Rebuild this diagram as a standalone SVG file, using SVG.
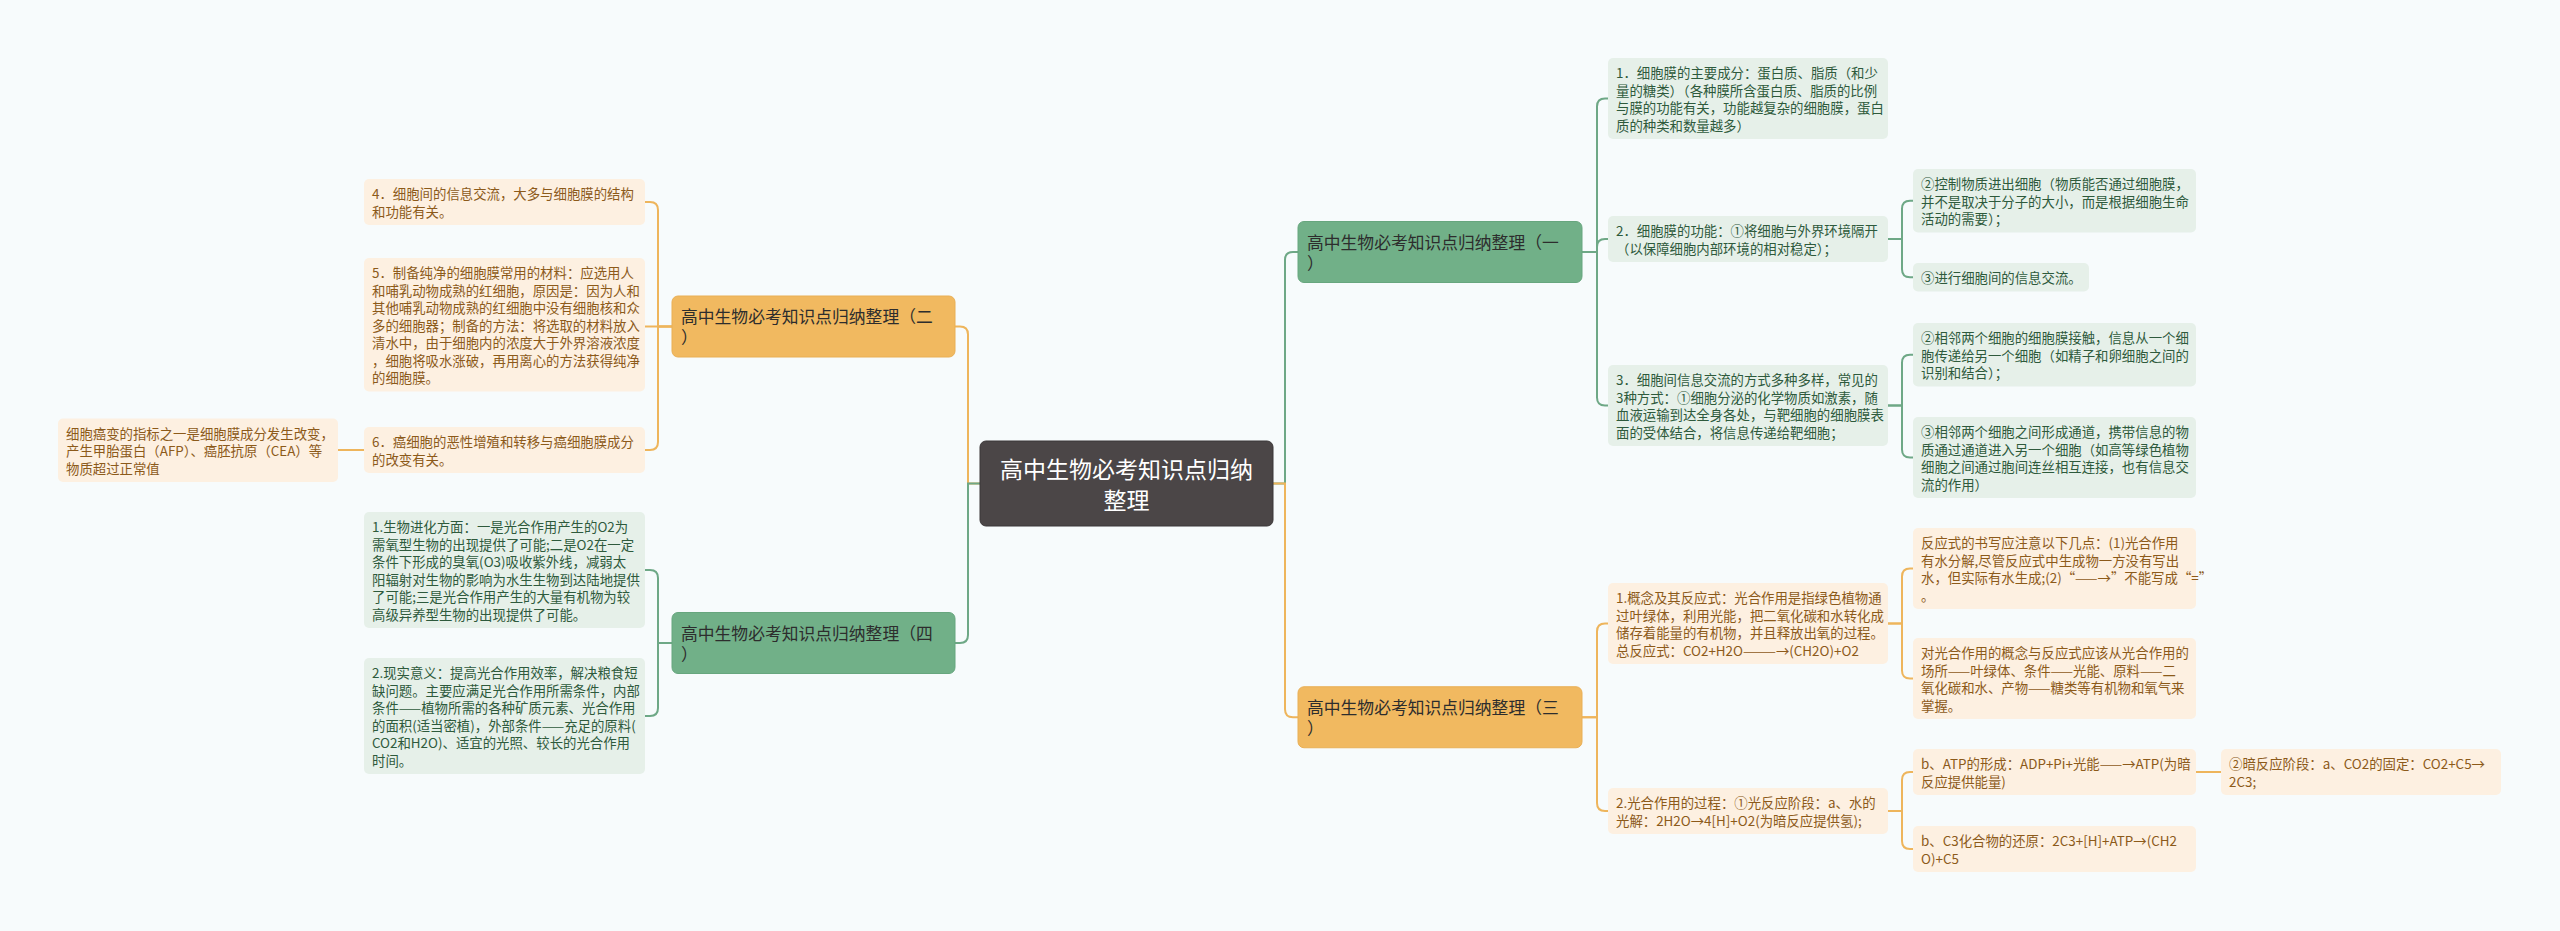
<svg xmlns="http://www.w3.org/2000/svg" width="2560" height="931" viewBox="0 0 2560 931">
<style>
text{font-family:"Noto Sans CJK SC","Noto Sans",sans-serif;dominant-baseline:central}
.bgc{fill:#f7fbfc}
.lo{fill:#fdf0e1}
.lg{fill:#e6f0e9}
.bo{fill:#f1b960;stroke:#e9af55;stroke-width:1}
.bgr{fill:#71b088;stroke:#67a67e;stroke-width:1}
.cen{fill:#4b4647;stroke:#3b3738;stroke-width:1}
.to{font-size:13.4px;fill:#8c5a1a}
.tg{font-size:13.4px;fill:#2e5a3c}
.tb{font-size:16.8px;fill:#2d2d2d}
.tc{font-size:23px;fill:#ffffff;text-anchor:middle}
.co{fill:none;stroke:#eeb55c;stroke-width:2}
.cg{fill:none;stroke:#6ea886;stroke-width:2}
</style>
<rect class="bgc" x="0" y="0" width="2560" height="931"/>
<g id="connectors">
<path class="co" d="M980,483.5 H968 V334.5 Q968,326.5 960,326.5 H955"/>
<path class="cg" d="M980,483.5 H968 V635 Q968,643 960,643 H955"/>
<path class="cg" d="M1273,483.5 H1285 V260 Q1285,252 1293,252 H1298"/>
<path class="co" d="M1273,483.5 H1285 V709.25 Q1285,717.25 1293,717.25 H1298"/>
<path class="co" d="M672,326.5 H658 V210 Q658,202 650,202 H645"/>
<path class="co" d="M672,326.5 H645"/>
<path class="co" d="M672,326.5 H658 V442 Q658,450 650,450 H645"/>
<path class="co" d="M364,450 H338"/>
<path class="cg" d="M672,643 H658 V578 Q658,570 650,570 H645"/>
<path class="cg" d="M672,643 H658 V708 Q658,716 650,716 H645"/>
<path class="cg" d="M1582,252 H1597 V106.5 Q1597,98.5 1605,98.5 H1608"/>
<path class="cg" d="M1582,252 H1597 V247 Q1597,239 1605,239 H1608"/>
<path class="cg" d="M1582,252 H1597 V397.5 Q1597,405.5 1605,405.5 H1608"/>
<path class="cg" d="M1888,239 H1902 V208.75 Q1902,200.75 1910,200.75 H1913"/>
<path class="cg" d="M1888,239 H1902 V269.25 Q1902,277.25 1910,277.25 H1913"/>
<path class="cg" d="M1888,405.5 H1902 V362.75 Q1902,354.75 1910,354.75 H1913"/>
<path class="cg" d="M1888,405.5 H1902 V449.5 Q1902,457.5 1910,457.5 H1913"/>
<path class="co" d="M1582,717.25 H1597 V631.5 Q1597,623.5 1605,623.5 H1608"/>
<path class="co" d="M1582,717.25 H1597 V803 Q1597,811 1605,811 H1608"/>
<path class="co" d="M1888,623.5 H1902 V576.5 Q1902,568.5 1910,568.5 H1913"/>
<path class="co" d="M1888,623.5 H1902 V670.5 Q1902,678.5 1910,678.5 H1913"/>
<path class="co" d="M1888,811 H1902 V780 Q1902,772 1910,772 H1913"/>
<path class="co" d="M1888,811 H1902 V841 Q1902,849 1910,849 H1913"/>
<path class="co" d="M2196,772 H2221"/>
</g>
<g id="center">
<rect class="cen" x="980" y="441" width="293" height="85" rx="6"/>
<text class="tc"><tspan x="1126.5" y="468">高中生物必考知识点归纳</tspan><tspan x="1126.5" y="499">整理</tspan></text>
</g>
<g id="b2">
<rect class="bo" x="672" y="296" width="283" height="61" rx="6"/>
<text class="tb"><tspan x="681" y="316">高中生物必考知识点归纳整理（二</tspan><tspan x="681" y="337">）</tspan></text>
</g>
<g id="b4">
<rect class="bgr" x="672" y="612.5" width="283" height="61" rx="6"/>
<text class="tb"><tspan x="681" y="632.5">高中生物必考知识点归纳整理（四</tspan><tspan x="681" y="653.5">）</tspan></text>
</g>
<g id="b1">
<rect class="bgr" x="1298" y="221.5" width="284" height="61" rx="6"/>
<text class="tb"><tspan x="1307" y="241.5">高中生物必考知识点归纳整理（一</tspan><tspan x="1307" y="262.5">）</tspan></text>
</g>
<g id="b3">
<rect class="bo" x="1298" y="686.75" width="284" height="61" rx="6"/>
<text class="tb"><tspan x="1307" y="706.75">高中生物必考知识点归纳整理（三</tspan><tspan x="1307" y="727.75">）</tspan></text>
</g>
<g id="l4">
<rect class="lo" x="364" y="179" width="281" height="46" rx="5"/>
<text class="to"><tspan x="372" y="193.25">4．细胞间的信息交流，大多与细胞膜的结构</tspan><tspan x="372" y="210.75">和功能有关。</tspan></text>
</g>
<g id="l5">
<rect class="lo" x="364" y="258" width="281" height="133.5" rx="5"/>
<text class="to"><tspan x="372" y="272.25">5．制备纯净的细胞膜常用的材料：应选用人</tspan><tspan x="372" y="289.75">和哺乳动物成熟的红细胞，原因是：因为人和</tspan><tspan x="372" y="307.25">其他哺乳动物成熟的红细胞中没有细胞核和众</tspan><tspan x="372" y="324.75">多的细胞器；制备的方法：将选取的材料放入</tspan><tspan x="372" y="342.25">清水中，由于细胞内的浓度大于外界溶液浓度</tspan><tspan x="372" y="359.75">，细胞将吸水涨破，再用离心的方法获得纯净</tspan><tspan x="372" y="377.25">的细胞膜。</tspan></text>
</g>
<g id="l6">
<rect class="lo" x="364" y="427" width="281" height="46" rx="5"/>
<text class="to"><tspan x="372" y="441.25">6．癌细胞的恶性增殖和转移与癌细胞膜成分</tspan><tspan x="372" y="458.75">的改变有关。</tspan></text>
</g>
<g id="l6a">
<rect class="lo" x="58" y="418.5" width="280" height="63.5" rx="5"/>
<text class="to"><tspan x="66" y="432.75">细胞癌变的指标之一是细胞膜成分发生改变，</tspan><tspan x="66" y="450.25">产生甲胎蛋白（AFP）、癌胚抗原（CEA）等</tspan><tspan x="66" y="467.75">物质超过正常值</tspan></text>
</g>
<g id="g1">
<rect class="lg" x="364" y="512" width="281" height="116" rx="5"/>
<text class="tg"><tspan x="372" y="526.25">1.生物进化方面：一是光合作用产生的O2为</tspan><tspan x="372" y="543.75">需氧型生物的出现提供了可能;二是O2在一定</tspan><tspan x="372" y="561.25">条件下形成的臭氧(O3)吸收紫外线，减弱太</tspan><tspan x="372" y="578.75">阳辐射对生物的影响为水生生物到达陆地提供</tspan><tspan x="372" y="596.25">了可能;三是光合作用产生的大量有机物为较</tspan><tspan x="372" y="613.75">高级异养型生物的出现提供了可能。</tspan></text>
</g>
<g id="g2">
<rect class="lg" x="364" y="658" width="281" height="116" rx="5"/>
<text class="tg"><tspan x="372" y="672.25">2.现实意义：提高光合作用效率，解决粮食短</tspan><tspan x="372" y="689.75">缺问题。主要应满足光合作用所需条件，内部</tspan><tspan x="372" y="707.25">条件——植物所需的各种矿质元素、光合作用</tspan><tspan x="372" y="724.75">的面积(适当密植)，外部条件——充足的原料(</tspan><tspan x="372" y="742.25">CO2和H2O)、适宜的光照、较长的光合作用</tspan><tspan x="372" y="759.75">时间。</tspan></text>
</g>
<g id="r1">
<rect class="lg" x="1608" y="58" width="280" height="81" rx="5"/>
<text class="tg"><tspan x="1616" y="72.25">1．细胞膜的主要成分：蛋白质、脂质（和少</tspan><tspan x="1616" y="89.75">量的糖类）（各种膜所含蛋白质、脂质的比例</tspan><tspan x="1616" y="107.25">与膜的功能有关，功能越复杂的细胞膜，蛋白</tspan><tspan x="1616" y="124.75">质的种类和数量越多）</tspan></text>
</g>
<g id="r2">
<rect class="lg" x="1608" y="216" width="280" height="46" rx="5"/>
<text class="tg"><tspan x="1616" y="230.25">2．细胞膜的功能：①将细胞与外界环境隔开</tspan><tspan x="1616" y="247.75">（以保障细胞内部环境的相对稳定）；</tspan></text>
</g>
<g id="r3">
<rect class="lg" x="1608" y="365" width="280" height="81" rx="5"/>
<text class="tg"><tspan x="1616" y="379.25">3．细胞间信息交流的方式多种多样，常见的</tspan><tspan x="1616" y="396.75">3种方式：①细胞分泌的化学物质如激素，随</tspan><tspan x="1616" y="414.25">血液运输到达全身各处，与靶细胞的细胞膜表</tspan><tspan x="1616" y="431.75">面的受体结合，将信息传递给靶细胞；</tspan></text>
</g>
<g id="r2a">
<rect class="lg" x="1913" y="169" width="283" height="63.5" rx="5"/>
<text class="tg"><tspan x="1921" y="183.25">②控制物质进出细胞（物质能否通过细胞膜，</tspan><tspan x="1921" y="200.75">并不是取决于分子的大小，而是根据细胞生命</tspan><tspan x="1921" y="218.25">活动的需要）；</tspan></text>
</g>
<g id="r2b">
<rect class="lg" x="1913" y="263" width="176" height="28.5" rx="5"/>
<text class="tg"><tspan x="1921" y="277.25">③进行细胞间的信息交流。</tspan></text>
</g>
<g id="r3a">
<rect class="lg" x="1913" y="323" width="283" height="63.5" rx="5"/>
<text class="tg"><tspan x="1921" y="337.25">②相邻两个细胞的细胞膜接触，信息从一个细</tspan><tspan x="1921" y="354.75">胞传递给另一个细胞（如精子和卵细胞之间的</tspan><tspan x="1921" y="372.25">识别和结合）；</tspan></text>
</g>
<g id="r3b">
<rect class="lg" x="1913" y="417" width="283" height="81" rx="5"/>
<text class="tg"><tspan x="1921" y="431.25">③相邻两个细胞之间形成通道，携带信息的物</tspan><tspan x="1921" y="448.75">质通过通道进入另一个细胞（如高等绿色植物</tspan><tspan x="1921" y="466.25">细胞之间通过胞间连丝相互连接，也有信息交</tspan><tspan x="1921" y="483.75">流的作用）</tspan></text>
</g>
<g id="s1">
<rect class="lo" x="1608" y="583" width="280" height="81" rx="5"/>
<text class="to"><tspan x="1616" y="597.25">1.概念及其反应式：光合作用是指绿色植物通</tspan><tspan x="1616" y="614.75">过叶绿体，利用光能，把二氧化碳和水转化成</tspan><tspan x="1616" y="632.25">储存着能量的有机物，并且释放出氧的过程。</tspan><tspan x="1616" y="649.75">总反应式：CO2+H2O———→(CH2O)+O2</tspan></text>
</g>
<g id="s2">
<rect class="lo" x="1608" y="788" width="280" height="46" rx="5"/>
<text class="to"><tspan x="1616" y="802.25">2.光合作用的过程：①光反应阶段：a、水的</tspan><tspan x="1616" y="819.75">光解：2H2O→4[H]+O2(为暗反应提供氢);</tspan></text>
</g>
<g id="s1a">
<rect class="lo" x="1913" y="528" width="283" height="81" rx="5"/>
<text class="to"><tspan x="1921" y="542.25">反应式的书写应注意以下几点：(1)光合作用</tspan><tspan x="1921" y="559.75">有水分解,尽管反应式中生成物一方没有写出</tspan><tspan x="1921" y="577.25">水，但实际有水生成;(2)“——→”不能写成“=”</tspan><tspan x="1921" y="594.75">。</tspan></text>
</g>
<g id="s1b">
<rect class="lo" x="1913" y="638" width="283" height="81" rx="5"/>
<text class="to"><tspan x="1921" y="652.25">对光合作用的概念与反应式应该从光合作用的</tspan><tspan x="1921" y="669.75">场所——叶绿体、条件——光能、原料——二</tspan><tspan x="1921" y="687.25">氧化碳和水、产物——糖类等有机物和氧气来</tspan><tspan x="1921" y="704.75">掌握。</tspan></text>
</g>
<g id="s2a">
<rect class="lo" x="1913" y="749" width="283" height="46" rx="5"/>
<text class="to"><tspan x="1921" y="763.25">b、ATP的形成：ADP+Pi+光能——→ATP(为暗</tspan><tspan x="1921" y="780.75">反应提供能量)</tspan></text>
</g>
<g id="s2b">
<rect class="lo" x="1913" y="826" width="283" height="46" rx="5"/>
<text class="to"><tspan x="1921" y="840.25">b、C3化合物的还原：2C3+[H]+ATP→(CH2</tspan><tspan x="1921" y="857.75">O)+C5</tspan></text>
</g>
<g id="s2a1">
<rect class="lo" x="2221" y="749" width="280" height="46" rx="5"/>
<text class="to"><tspan x="2229" y="763.25">②暗反应阶段：a、CO2的固定：CO2+C5→</tspan><tspan x="2229" y="780.75">2C3;</tspan></text>
</g>
</svg>
